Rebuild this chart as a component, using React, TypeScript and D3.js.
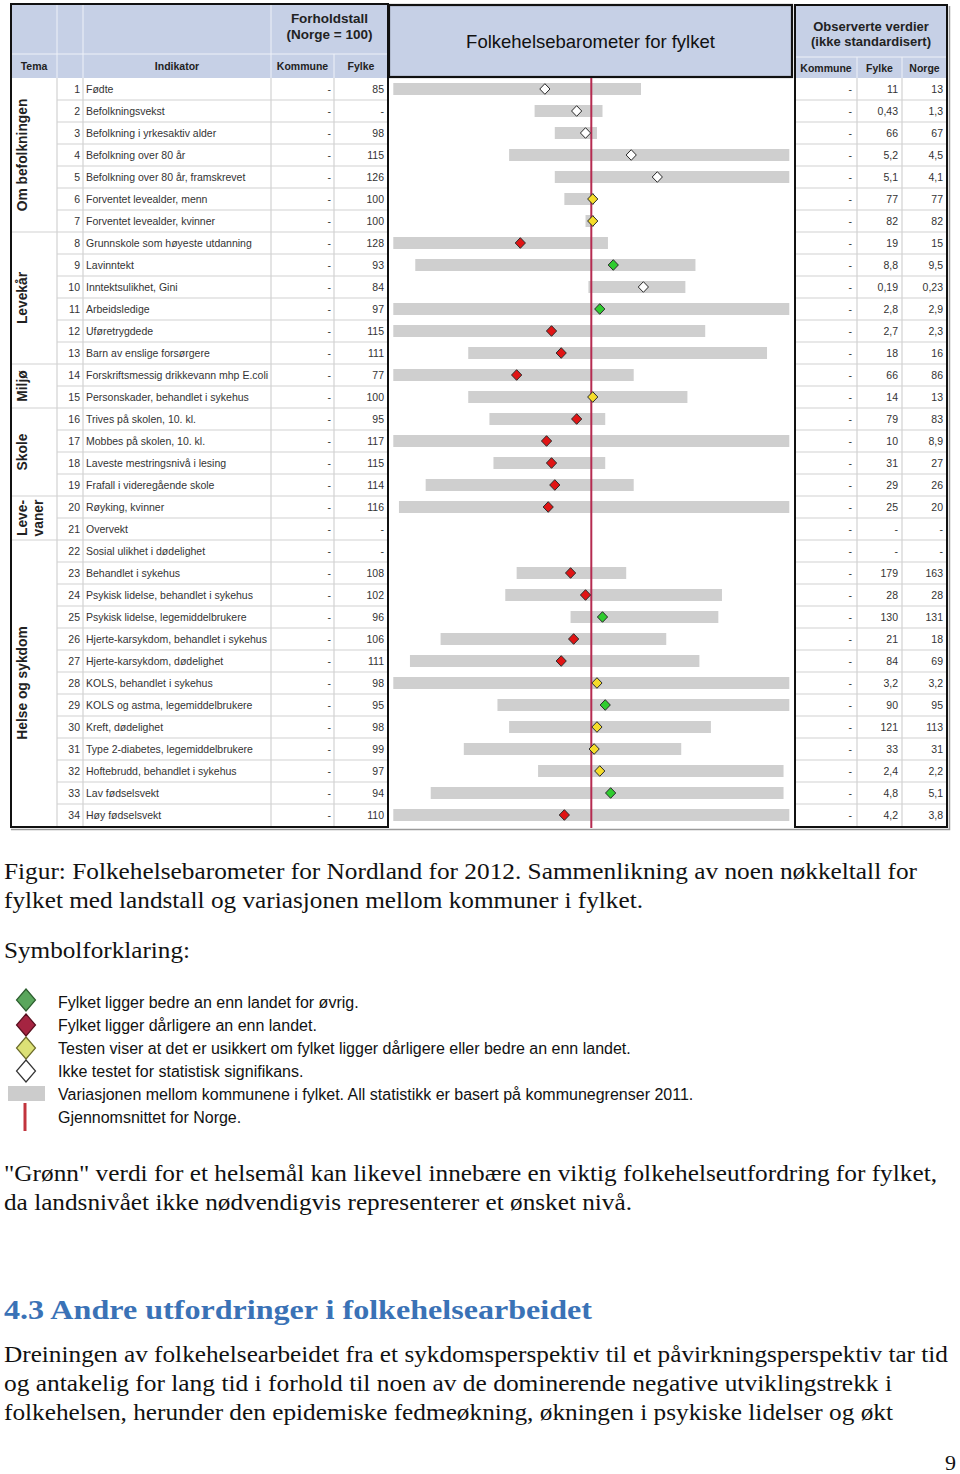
import { useLayoutEffect } from 'react';
import * as d3 from 'd3';

// Indicators (rows of the barometer)
const indicators = [
  'Fødte',
  'Befolkningsvekst',
  'Befolkning i yrkesaktiv alder',
  'Befolkning over 80 år',
  'Befolkning over 80 år, framskrevet',
  'Forventet levealder, menn',
  'Forventet levealder, kvinner',
  'Grunnskole som høyeste utdanning',
  'Lavinntekt',
  'Inntektsulikhet, Gini',
  'Arbeidsledige',
  'Uføretrygdede',
  'Barn av enslige forsørgere',
  'Forskriftsmessig drikkevann mhp E.coli',
  'Personskader, behandlet i sykehus',
  'Trives på skolen, 10. kl.',
  'Mobbes på skolen, 10. kl.',
  'Laveste mestringsnivå i lesing',
  'Frafall i videregående skole',
  'Røyking, kvinner',
  'Overvekt',
  'Sosial ulikhet i dødelighet',
  'Behandlet i sykehus',
  'Psykisk lidelse, behandlet i sykehus',
  'Psykisk lidelse, legemiddelbrukere',
  'Hjerte-karsykdom, behandlet i sykehus',
  'Hjerte-karsykdom, dødelighet',
  'KOLS, behandlet i sykehus',
  'KOLS og astma, legemiddelbrukere',
  'Kreft, dødelighet',
  'Type 2-diabetes, legemiddelbrukere',
  'Hoftebrudd, behandlet i sykehus',
  'Lav fødselsvekt',
  'Høy fødselsvekt',
];

// Forholdstall (Norge = 100)
const ratioKommune = indicators.map(() => '-');
const ratioFylke = ['85', '-', '98', '115', '126', '100', '100', '128', '93', '84', '97', '115', '111', '77', '100', '95', '117', '115', '114', '116', '-', '-', '108', '102', '96', '106', '111', '98', '95', '98', '99', '97', '94', '110'];

// Observerte verdier
const obsKommune = indicators.map(() => '-');
const obsFylke = ['11', '0,43', '66', '5,2', '5,1', '77', '82', '19', '8,8', '0,19', '2,8', '2,7', '18', '66', '14', '79', '10', '31', '29', '25', '-', '-', '179', '28', '130', '21', '84', '3,2', '90', '121', '33', '2,4', '4,8', '4,2'];
const obsNorge = ['13', '1,3', '67', '4,5', '4,1', '77', '82', '15', '9,5', '0,23', '2,9', '2,3', '16', '86', '13', '83', '8,9', '27', '26', '20', '-', '-', '163', '28', '131', '18', '69', '3,2', '95', '113', '31', '2,2', '5,1', '3,8'];

// Barometer: variation between municipalities (low/high) and county marker, Norge = 100
const barLow = [50, 82, 88, 75, 88, 91, 98, 50, 54, 99, 50, 50, 65, 50, 65, 70, 50, 71, 56, 51, null, null, 77, 74, 93, 59, 53, 50, 72, 75, 64, 83, 57, 50];
const barHigh = [119, 104, 102, 200, 200, 101, 101, 106, 144, 139, 200, 149, 185, 116, 140, 105, 200, 105, 116, 200, null, null, 113, 158, 156, 130, 146, 200, 200, 152, 137, 196, 196, 200];
const markerValue = [85, 95, 98, 115, 126, 100.5, 100.5, 78, 108, 120, 103, 87, 90, 77, 100.5, 95, 85.5, 87, 88, 86, null, null, 93, 98, 104, 94, 90, 102, 105, 102, 101, 103, 107, 91];
const markerStatus = ['ikke', 'ikke', 'ikke', 'ikke', 'ikke', 'usikker', 'usikker', 'darligere', 'bedre', 'ikke', 'bedre', 'darligere', 'darligere', 'darligere', 'usikker', 'darligere', 'darligere', 'darligere', 'darligere', 'darligere', null, null, 'darligere', 'darligere', 'bedre', 'darligere', 'darligere', 'usikker', 'bedre', 'usikker', 'usikker', 'usikker', 'bedre', 'darligere'];

// Tema groups: label lines, first and last row index
const temaNames = [['Om befolkningen'], ['Levekår'], ['Miljø'], ['Skole'], ['Leve-', 'vaner'], ['Helse og sykdom']];
const temaStart = [0, 7, 13, 15, 19, 21];
const temaEnd = [6, 12, 14, 18, 20, 33];

const legendLabels = [
  'Fylket ligger bedre an enn landet for øvrig.',
  'Fylket ligger dårligere an enn landet.',
  'Testen viser at det er usikkert om fylket ligger dårligere eller bedre an enn landet.',
  'Ikke testet for statistisk signifikans.',
  'Variasjonen mellom kommunene i fylket. All statistikk er basert på kommunegrenser 2011.',
  'Gjennomsnittet for Norge.',
];

const caption = [
  'Figur: Folkehelsebarometer for Nordland for 2012. Sammenlikning av noen nøkkeltall for',
  'fylket med landstall og variasjonen mellom kommuner i fylket.',
];
const note = [
  '"Grønn" verdi for et helsemål kan likevel innebære en viktig folkehelseutfordring for fylket,',
  'da landsnivået ikke nødvendigvis representerer et ønsket nivå.',
];
const heading = '4.3 Andre utfordringer i folkehelsearbeidet';
const body = [
  'Dreiningen av folkehelsearbeidet fra et sykdomsperspektiv til et påvirkningsperspektiv tar tid',
  'og antakelig for lang tid i forhold til noen av de dominerende negative utviklingstrekk i',
  'folkehelsen, herunder den epidemiske fedmeøkning, økningen i psykiske lidelser og økt',
];

const SANS = '"Liberation Sans", Arial, sans-serif';
const SERIF = '"Liberation Serif", "Times New Roman", serif';
const HEAD_BG = '#c6d0e6';
const GRID = '#d2d2d2';
const TXT = '#333';

const markerFill: Record<string, string> = {
  bedre: '#2fcc2f',
  darligere: '#e01414',
  usikker: '#f5dc2a',
  ikke: '#ffffff',
};

const diamond = (rx: number, ry: number) => `M0,${-ry}L${rx},0L0,${ry}L${-rx},0Z`;

export default function App() {
  useLayoutEffect(() => {
    document.body.style.margin = '0';
  }, []);

  const W = 960;
  const H = 1474;
  const top = 78;
  const bottom = 826;

  const y = d3.scaleBand<number>().domain(d3.range(indicators.length)).range([top, bottom]);
  const rh = y.bandwidth();
  const x = d3.scaleLog().domain([50, 200]).range([393.3, 789.3]);

  // left table columns
  const L = [11, 57, 83, 271, 334, 388];
  // right table columns
  const R = [795, 857, 902, 947];

  const legendY = d3.scaleLinear().domain([0, 5]).range([1002, 1117]);

  return (
    <svg width={W} height={H} style={{ position: 'absolute', left: 0, top: 0, background: '#fff' }}>
      {/* ---------- left table ---------- */}
      <rect x={L[0]} y={5} width={L[5] - L[0]} height={top - 5} fill={HEAD_BG} />
      <g stroke="#eef1f8" strokeWidth={1}>
        <line x1={L[0]} x2={L[5]} y1={54} y2={54} />
        {[L[1], L[2], L[3]].map((c) => (
          <line key={c} x1={c} x2={c} y1={5} y2={top} />
        ))}
        <line x1={L[4]} x2={L[4]} y1={54} y2={top} />
      </g>
      <g fontFamily={SANS} fill="#222" fontWeight="bold">
        <text x={(L[3] + L[5]) / 2} y={23} fontSize={13.5} textAnchor="middle">Forholdstall</text>
        <text x={(L[3] + L[5]) / 2} y={39} fontSize={13.5} textAnchor="middle">(Norge = 100)</text>
        <text x={(L[0] + L[1]) / 2} y={70} fontSize={10.5} textAnchor="middle">Tema</text>
        <text x={(L[2] + L[3]) / 2} y={70} fontSize={10.5} textAnchor="middle">Indikator</text>
        <text x={(L[3] + L[4]) / 2} y={70} fontSize={10.5} textAnchor="middle">Kommune</text>
        <text x={(L[4] + L[5]) / 2} y={70} fontSize={10.5} textAnchor="middle">Fylke</text>
      </g>

      {/* body grid */}
      <g stroke={GRID} strokeWidth={1.2}>
        {indicators.slice(0, -1).map((_, i) => (
          <line key={i} x1={L[1]} x2={L[5]} y1={(y(i) ?? 0) + rh} y2={(y(i) ?? 0) + rh} />
        ))}
        {temaEnd.slice(0, -1).map((e) => (
          <line key={'t' + e} x1={L[0]} x2={L[1]} y1={(y(e) ?? 0) + rh} y2={(y(e) ?? 0) + rh} />
        ))}
        {[L[1], L[2], L[3], L[4]].map((c) => (
          <line key={'v' + c} x1={c} x2={c} y1={top} y2={bottom} />
        ))}
      </g>

      {/* tema labels */}
      <g fontFamily={SANS} fill="#222" fontWeight="bold" fontSize={13.8}>
        {temaNames.map((lines, k) => {
          const cy = ((y(temaStart[k]) ?? 0) + (y(temaEnd[k]) ?? 0) + rh) / 2;
          return lines.map((t, j) => (
            <text
              key={k + '-' + j}
              transform={`translate(${22 + j * 16},${cy}) rotate(-90)`}
              textAnchor="middle"
              dy="0.36em"
            >
              {t}
            </text>
          ));
        })}
      </g>

      {/* rows */}
      <g fontFamily={SANS} fill={TXT} fontSize={10.5}>
        {indicators.map((name, i) => {
          const cy = (y(i) ?? 0) + rh / 2 + 3.7;
          return (
            <g key={i}>
              <text x={L[2] - 3} y={cy} textAnchor="end">{i + 1}</text>
              <text x={L[2] + 3} y={cy}>{name}</text>
              <text x={L[4] - 3} y={cy} textAnchor="end">{ratioKommune[i]}</text>
              <text x={L[5] - 4} y={cy} textAnchor="end">{ratioFylke[i]}</text>
            </g>
          );
        })}
      </g>
      <rect x={L[0]} y={4} width={L[5] - L[0]} height={bottom + 1 - 4} fill="none" stroke="#111" strokeWidth={2} />

      {/* ---------- barometer ---------- */}
      <rect x={389} y={5} width={403} height={72} fill={HEAD_BG} stroke="#111" strokeWidth={2.2} />
      <text x={590.5} y={48} fontFamily={SANS} fontSize={18.5} fill="#111" textAnchor="middle">
        Folkehelsebarometer for fylket
      </text>

      <g>
        {indicators.map((_, i) =>
          barLow[i] == null || barHigh[i] == null ? null : (
            <rect
              key={'b' + i}
              x={x(barLow[i] as number)}
              y={(y(i) ?? 0) + rh / 2 - 6}
              width={x(barHigh[i] as number) - x(barLow[i] as number)}
              height={12}
              fill="#cfcfcf"
            />
          ),
        )}
      </g>
      <line x1={x(100)} x2={x(100)} y1={top} y2={bottom + 2} stroke="#b52b50" strokeWidth={2} />
      <g>
        {indicators.map((_, i) =>
          markerValue[i] == null ? null : (
            <path
              key={'m' + i}
              d={diamond(5.1, 5.3)}
              transform={`translate(${x(markerValue[i] as number)},${(y(i) ?? 0) + rh / 2})`}
              fill={markerFill[markerStatus[i] as string]}
              stroke="#2a2a2a"
              strokeWidth={1}
            />
          ),
        )}
      </g>

      {/* ---------- right table ---------- */}
      <rect x={R[0]} y={5} width={R[3] - R[0]} height={top - 5} fill={HEAD_BG} />
      <g stroke="#eef1f8" strokeWidth={1}>
        <line x1={R[0]} x2={R[3]} y1={57} y2={57} />
        <line x1={R[1]} x2={R[1]} y1={57} y2={top} />
        <line x1={R[2]} x2={R[2]} y1={57} y2={top} />
      </g>
      <g fontFamily={SANS} fill="#222" fontWeight="bold">
        <text x={(R[0] + R[3]) / 2} y={31} fontSize={13} textAnchor="middle">Observerte verdier</text>
        <text x={(R[0] + R[3]) / 2} y={46} fontSize={13} textAnchor="middle">(ikke standardisert)</text>
        <text x={(R[0] + R[1]) / 2} y={72} fontSize={10.5} textAnchor="middle">Kommune</text>
        <text x={(R[1] + R[2]) / 2} y={72} fontSize={10.5} textAnchor="middle">Fylke</text>
        <text x={(R[2] + R[3]) / 2} y={72} fontSize={10.5} textAnchor="middle">Norge</text>
      </g>
      <g stroke={GRID} strokeWidth={1.2}>
        {indicators.slice(0, -1).map((_, i) => (
          <line key={i} x1={R[0]} x2={R[3]} y1={(y(i) ?? 0) + rh} y2={(y(i) ?? 0) + rh} />
        ))}
        <line x1={R[1]} x2={R[1]} y1={top} y2={bottom} />
        <line x1={R[2]} x2={R[2]} y1={top} y2={bottom} />
      </g>
      <g fontFamily={SANS} fill={TXT} fontSize={10.5}>
        {indicators.map((_, i) => {
          const cy = (y(i) ?? 0) + rh / 2 + 3.7;
          return (
            <g key={i}>
              <text x={R[1] - 5} y={cy} textAnchor="end">{obsKommune[i]}</text>
              <text x={R[2] - 4} y={cy} textAnchor="end">{obsFylke[i]}</text>
              <text x={R[3] - 4} y={cy} textAnchor="end">{obsNorge[i]}</text>
            </g>
          );
        })}
      </g>
      <rect x={R[0]} y={5} width={R[3] - R[0]} height={bottom + 1 - 5} fill="none" stroke="#111" strokeWidth={2} />
      <path d={`M${R[3] + 2.5},6V${bottom + 3.5}H${L[0]}`} fill="none" stroke="#9a9a9a" strokeWidth={1.5} />

      {/* ---------- text below ---------- */}
      <g fontFamily={SERIF} fill="#111" fontSize={23}>
        <text x={4} y={879} textLength={913} lengthAdjust="spacingAndGlyphs">{caption[0]}</text>
        <text x={4} y={908} textLength={639} lengthAdjust="spacingAndGlyphs">{caption[1]}</text>
        <text x={4} y={958} textLength={186} lengthAdjust="spacingAndGlyphs">Symbolforklaring:</text>
      </g>

      {/* legend */}
      <path d={diamond(9.5, 11)} transform={`translate(26,${legendY(0) - 2})`} fill="#5aa65c" stroke="#2d5e2f" strokeWidth={1.2} />
      <path d={diamond(9.5, 11)} transform={`translate(26,${legendY(1)})`} fill="#a52441" stroke="#5a1020" strokeWidth={1.2} />
      <path d={diamond(9.5, 11)} transform={`translate(26,${legendY(2)})`} fill="#dce176" stroke="#6b6b2a" strokeWidth={1.2} />
      <path d={diamond(9.5, 11)} transform={`translate(26,${legendY(3)})`} fill="#fff" stroke="#333" strokeWidth={1.2} />
      <rect x={8} y={legendY(4) - 8} width={37} height={15} fill="#cccccc" />
      <line x1={25} x2={25} y1={legendY(4) + 9} y2={legendY(5) + 14} stroke="#c2343d" strokeWidth={3} />
      <g fontFamily={SANS} fill="#111" fontSize={16}>
        {legendLabels.map((t, k) => (
          <text key={k} x={58} y={legendY(k) + 5.8}>{t}</text>
        ))}
      </g>

      <g fontFamily={SERIF} fill="#111" fontSize={23}>
        <text x={4} y={1181} textLength={933} lengthAdjust="spacingAndGlyphs">{note[0]}</text>
        <text x={4} y={1210} textLength={628} lengthAdjust="spacingAndGlyphs">{note[1]}</text>
      </g>
      <text x={4} y={1319} fontFamily={SERIF} fontWeight="bold" fontSize={28} fill="#3a72b6" textLength={588} lengthAdjust="spacingAndGlyphs">
        {heading}
      </text>
      <g fontFamily={SERIF} fill="#111" fontSize={23}>
        <text x={4} y={1362} textLength={944} lengthAdjust="spacingAndGlyphs">{body[0]}</text>
        <text x={4} y={1391} textLength={888} lengthAdjust="spacingAndGlyphs">{body[1]}</text>
        <text x={4} y={1420} textLength={889} lengthAdjust="spacingAndGlyphs">{body[2]}</text>
        <text x={956} y={1470} fontSize={22} textAnchor="end">9</text>
      </g>
    </svg>
  );
}
